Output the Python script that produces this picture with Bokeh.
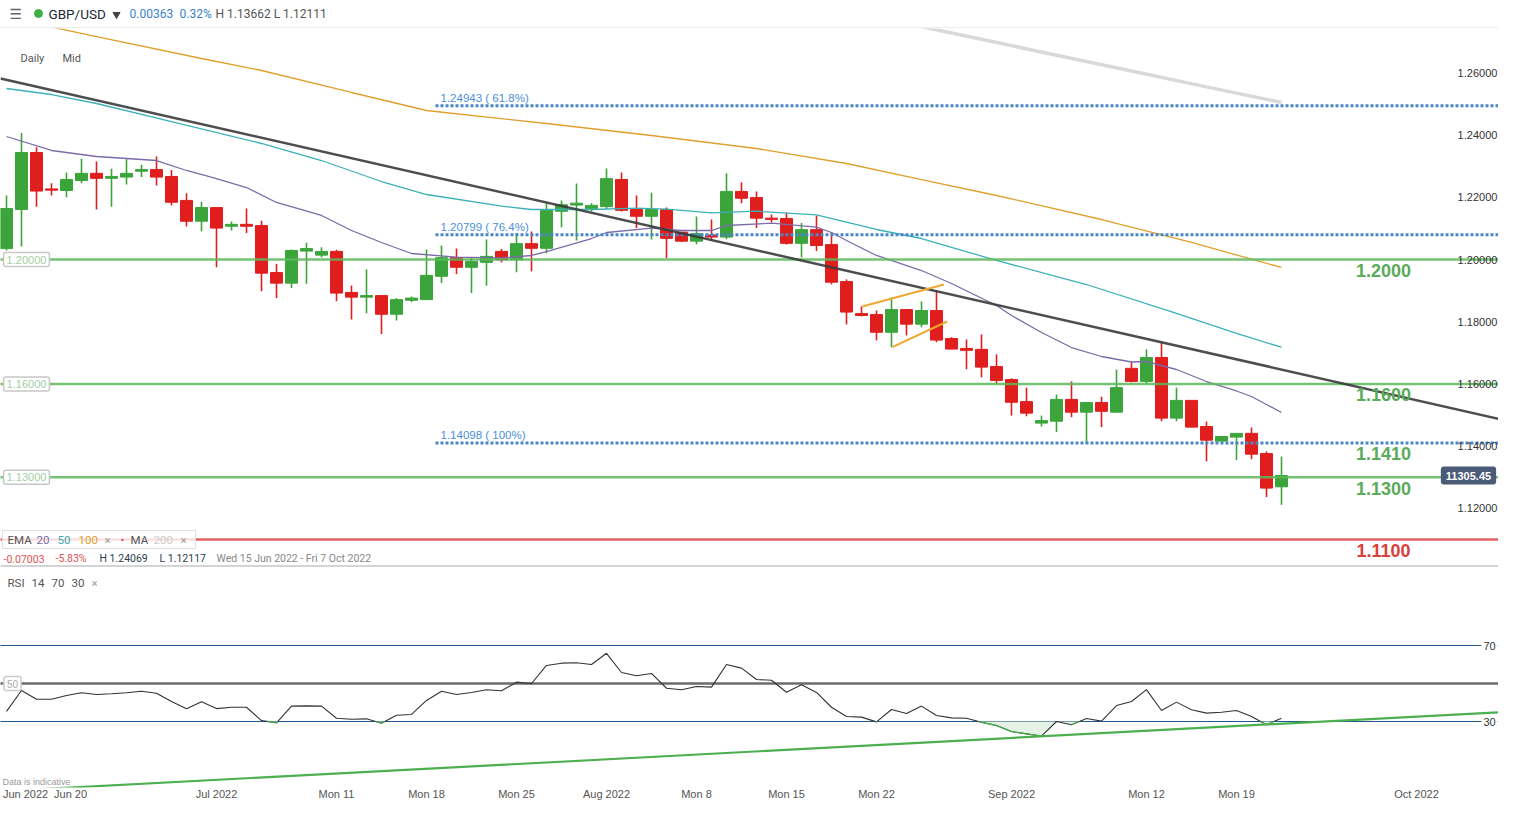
import numpy as np
from bokeh.plotting import figure
from bokeh.models import Range1d, Span, FixedTicker, ColumnDataSource
from bokeh.layouts import column
from bokeh.embed import file_html
from bokeh.resources import INLINE
from bokeh.core.properties import value

# ---------------- data ----------------
candle_index = list(range(86))   # daily bars from Wed 15 Jun 2022 (6 bars per week incl. Sunday)
opens = [1.2035, 1.2161, 1.2344, 1.2227, 1.2222, 1.2254, 1.2277, 1.2261, 1.2265, 1.2284,
         1.2289, 1.2267, 1.2190, 1.2123, 1.2167, 1.2107, 1.2113, 1.2109, 1.1958, 1.1924,
         1.2027, 1.2014, 1.2026, 1.1894, 1.1879, 1.1884, 1.1824, 1.1869, 1.1871, 1.1946,
         1.2006, 1.1975, 1.1991, 1.2026, 1.1999, 1.2051, 1.2036, 1.2155, 1.2175, 1.2163,
         1.2170, 1.2257, 1.2161, 1.2139, 1.2160, 1.2088, 1.2059, 1.2079, 1.2072, 1.2219,
         1.2199, 1.2133, 1.2132, 1.2052, 1.2096, 1.2048, 1.1929, 1.1826, 1.1823, 1.1766,
         1.1839, 1.1792, 1.1836, 1.1746, 1.1714, 1.1711, 1.1656, 1.1614, 1.1543, 1.1474,
         1.1480, 1.1550, 1.1509, 1.1540, 1.1509, 1.1650, 1.1608, 1.1685, 1.1490, 1.1547,
         1.1463, 1.1416, 1.1429, 1.1441, 1.1376, 1.12691]
highs = [1.2206, 1.24069, 1.2361, 1.2245, 1.2280, 1.2324, 1.2315, 1.2292, 1.2322, 1.2305,
         1.2331, 1.2288, 1.2213, 1.2186, 1.2167, 1.2122, 1.2164, 1.2125, 1.1986, 1.2032,
         1.2054, 1.2039, 1.2031, 1.1916, 1.1968, 1.1884, 1.1876, 1.1881, 1.2032, 1.2045,
         1.2035, 1.2005, 1.2064, 1.2034, 1.2085, 1.2090, 1.2184, 1.2190, 1.2244, 1.2181,
         1.2293, 1.2280, 1.2206, 1.2215, 1.2167, 1.2088, 1.2138, 1.2129, 1.2277, 1.2248,
         1.2219, 1.2145, 1.2150, 1.2117, 1.2141, 1.2088, 1.1936, 1.1849, 1.1836, 1.1878,
         1.1839, 1.1865, 1.1900, 1.1750, 1.1743, 1.1759, 1.1695, 1.1618, 1.1588, 1.1498,
         1.1566, 1.1608, 1.1540, 1.1559, 1.1646, 1.1669, 1.1711, 1.1736, 1.1588, 1.1547,
         1.1479, 1.1431, 1.1441, 1.1460, 1.1383, 1.13662]
lows = [1.2029, 1.2042, 1.2170, 1.2206, 1.2200, 1.2245, 1.2161, 1.2170, 1.2241, 1.2265,
        1.2238, 1.2174, 1.2106, 1.2091, 1.1975, 1.2093, 1.2085, 1.1898, 1.1876, 1.1908,
        1.1922, 1.2007, 1.1866, 1.1807, 1.1827, 1.1760, 1.1804, 1.1863, 1.1871, 1.1924,
        1.1953, 1.1892, 1.1916, 1.1991, 1.1959, 1.1962, 1.2020, 1.2104, 1.2061, 1.2154,
        1.2161, 1.2154, 1.2101, 1.2064, 1.2004, 1.2056, 1.2049, 1.2061, 1.2065, 1.2181,
        1.2101, 1.2120, 1.2048, 1.2007, 1.2027, 1.1920, 1.1791, 1.1817, 1.1740, 1.1718,
        1.1756, 1.1782, 1.1734, 1.1712, 1.1647, 1.1621, 1.1600, 1.1498, 1.1496, 1.1463,
        1.1445, 1.1493, 1.1407, 1.1461, 1.1509, 1.1605, 1.1600, 1.1480, 1.1480, 1.1461,
        1.1351, 1.1416, 1.1355, 1.1358, 1.1236, 1.12111]
closes = [1.2164, 1.2344, 1.2220, 1.2223, 1.2257, 1.2277, 1.2261, 1.2267, 1.2277, 1.2289,
          1.2265, 1.2184, 1.2123, 1.2167, 1.2101, 1.2113, 1.2107, 1.1956, 1.1924, 1.2029,
          1.2035, 1.2026, 1.1892, 1.1879, 1.1884, 1.1824, 1.1871, 1.1876, 1.1949, 1.2006,
          1.1975, 1.1994, 1.2010, 1.1999, 1.2051, 1.2036, 1.2158, 1.2176, 1.2181, 1.2174,
          1.2260, 1.2158, 1.2139, 1.2161, 1.2068, 1.2059, 1.2083, 1.2072, 1.2219, 1.2197,
          1.2133, 1.2129, 1.2052, 1.2096, 1.2045, 1.1927, 1.1831, 1.1820, 1.1766, 1.1839,
          1.1792, 1.1836, 1.1741, 1.1712, 1.1708, 1.1654, 1.1611, 1.1541, 1.1506, 1.1482,
          1.1550, 1.1509, 1.1540, 1.1512, 1.1588, 1.1608, 1.1685, 1.1490, 1.1547, 1.1461,
          1.1419, 1.1431, 1.1441, 1.1374, 1.1265, 1.13054]

ema20_x = [0, 3, 6, 10, 12, 14, 16, 18, 21, 23, 25, 27, 30, 33, 35, 36, 39, 40, 43, 45, 47,
           48, 51, 54, 55, 56, 58, 61, 63, 66, 67, 69, 71, 73, 75, 76, 78, 80, 82, 83, 84, 85]
ema20_y = [1.23955, 1.23505, 1.23312, 1.23183, 1.22862, 1.22604, 1.22315, 1.21833, 1.21415,
           1.20932, 1.20547, 1.20193, 1.20074, 1.20048, 1.20129, 1.20257, 1.20675, 1.20868,
           1.21006, 1.20932, 1.20932, 1.21093, 1.21167, 1.21039, 1.20868, 1.20611, 1.20129,
           1.19646, 1.19228, 1.18521, 1.18199, 1.17653, 1.17170, 1.16881, 1.16704, 1.16720,
           1.16463, 1.16077, 1.15772, 1.15595, 1.15338, 1.15080]
ema50_x = [0, 3, 6, 11, 17, 21, 25, 28, 33, 35, 39, 42, 44, 47, 50, 54, 58, 61, 66, 72, 78, 82, 85]
ema50_y = [1.25498, 1.25305, 1.25016, 1.24437, 1.23730, 1.23183, 1.22508, 1.22090, 1.21714,
           1.21608, 1.21608, 1.21649, 1.21617, 1.21502, 1.21553, 1.21437, 1.20965, 1.20675,
           1.19968, 1.19196, 1.18264, 1.17621, 1.17180]
ema100_x = [0, 6, 13, 17, 23, 28, 36, 43, 50, 56, 61, 66, 73, 79, 85]
ema100_y = [1.27781, 1.27170, 1.26463, 1.26077, 1.25370, 1.24791, 1.24373, 1.23987, 1.23569,
            1.23087, 1.22572, 1.22058, 1.21286, 1.20547, 1.19743]
ma200_x = [58, 65, 70, 75, 80, 85]
ma200_y = [1.2779, 1.2708, 1.2657, 1.2606, 1.2555, 1.2505]

rsi_values = [35.3, 46.3, 41.7, 41.7, 43.7, 45.1, 44.2, 44.6, 45.1, 45.9,
              44.9, 40.5, 36.7, 40.4, 36.8, 37.5, 37.5, 30.5, 29.3, 38.1,
              38.2, 38.1, 31.7, 31.2, 31.4, 29.1, 33.3, 33.7, 41.1, 45.9,
              44.2, 45.3, 46.7, 46.2, 50.7, 50.0, 59.5, 60.7, 60.9, 60.0,
              65.9, 55.8, 54.1, 55.3, 47.5, 46.7, 48.4, 48.1, 60.0, 58.1,
              52.1, 51.7, 45.4, 49.3, 45.3, 37.5, 32.6, 32.3, 29.8, 36.3,
              34.2, 38.1, 33.2, 31.9, 31.7, 29.6, 27.9, 24.7, 23.5, 22.3,
              30.0, 28.3, 31.6, 30.2, 38.4, 40.5, 46.8, 35.8, 40.2, 36.2,
              34.4, 34.9, 35.8, 32.6, 28.3, 31.7]

trend_x = [-0.4, 100.53]
trend_y = [1.2582, 1.1476]
wedge_top_x = [57.05, 62.49]
wedge_top_y = [1.18489, 1.19196]
wedge_bot_x = [59.05, 62.71]
wedge_bot_y = [1.17180, 1.18006]
rsi_trend_x = [-0.4, 100.53]
rsi_trend_y = [-6.7, 35.3]

support_levels = [1.2000, 1.1600, 1.1300]
support_left_labels = ["1.20000", "1.16000", "1.13000"]
big_label_levels = [1.2000, 1.1600, 1.1410, 1.1300]
big_label_texts = ["1.2000", "1.1600", "1.1410", "1.1300"]
red_level = 1.1100
red_label = "1.1100"
fib_levels = [1.24943, 1.20799, 1.14098]
fib_labels = ["1.24943 ( 61.8%)", "1.20799 ( 76.4%)", "1.14098 ( 100%)"]
fib_start = 28.6
price_ticks = [1.26, 1.24, 1.22, 1.20, 1.18, 1.16, 1.14, 1.12]
price_tick_labels = ["%.5f" % t for t in price_ticks]
last_price_label = "11305.45"
rsi_levels = [70, 30]
x_tick_pos = [1.27, 4.27, 14, 22, 28, 34, 40, 46, 52, 58, 67, 76, 82, 94]
x_tick_labels = ["Jun 2022", "Jun 20", "Jul 2022", "Mon 11", "Mon 18", "Mon 25", "Aug 2022",
                 "Mon 8", "Mon 15", "Mon 22", "Sep 2022", "Mon 12", "Mon 19", "Oct 2022"]

# ---------------- pixel helpers (for text placement only) ----------------
def X(px):
    return (px - 6) / 15.0

def PY(py):
    return 1.2 + (259 - py) / 3110.0

def RY(py):
    return 70 - (py - 645) / 1.9

GREEN = "#3ba53b"
RED = "#e01e1e"
LVL_GREEN = "#5cb85c"
UI = value("Roboto")
NUM = value("Liberation Sans")
W = 1498

xr = Range1d(X(0), X(W))
FAR_L, FAR_R = X(-50), X(1600)

# ---------------- header ----------------
h = figure(frame_width=W, frame_height=28, x_range=Range1d(0, W), y_range=Range1d(28, 0),
           x_axis_type=None, y_axis_type=None, toolbar_location=None, output_backend="svg",
           min_border=0, outline_line_color=None)
h.add_layout(Span(location=27.5, dimension="width", line_color="#d3dede", line_width=1))
h.text(x=[9], y=[13], text=["\u2630"], text_font=value("DejaVu Sans"), text_font_size="14px",
       text_color="#666666", text_baseline="middle")
h.scatter(x=[38], y=[13], size=8, color="#3cb043", marker="circle")
h.text(x=[48], y=[13], text=["GBP/USD"], text_font=UI, text_font_size="13.5px",
       text_color="#1e2838", text_baseline="middle")
h.scatter(x=[116], y=[14], size=7, color="#444444", marker="inverted_triangle")
h.text(x=[129, 179], y=[13, 13], text=["0.00363", "0.32%"], text_font=UI, text_font_size="12px",
       text_color="#3b82c4", text_baseline="middle")
h.text(x=[215], y=[13], text=["H 1.13662 L 1.12111"], text_font=UI, text_font_size="12px",
       text_color="#555555", text_baseline="middle")

# ---------------- price panel ----------------
p = figure(frame_width=W, frame_height=539, x_range=xr, y_range=Range1d(PY(567), PY(28)),
           x_axis_type=None, y_axis_type=None, toolbar_location=None, output_backend="svg",
           min_border=0, outline_line_color=None)

up = [c >= o for o, c in zip(opens, closes)]
src = ColumnDataSource(dict(
    x=candle_index, h=highs, l=lows,
    top=[max(o, c) for o, c in zip(opens, closes)],
    bottom=[min(o, c) for o, c in zip(opens, closes)],
    color=[GREEN if u else RED for u in up]))
p.segment(x0="x", y0="h", x1="x", y1="l", line_color="color", line_width=1.6, source=src)
p.vbar(x="x", width=0.8, top="top", bottom="bottom", fill_color="color", line_color="color",
       line_width=1, source=src)

p.line(ma200_x, ma200_y, line_color="#d9d9d9", line_width=3.5)
p.line(ema100_x, ema100_y, line_color="#e0a02c", line_width=1.3)
p.line(ema50_x, ema50_y, line_color="#3cb0b8", line_width=1.3)
p.line(ema20_x, ema20_y, line_color="#7d6aa8", line_width=1.3)

n_s = len(support_levels)
p.segment(x0=[FAR_L] * n_s, y0=support_levels, x1=[FAR_R] * n_s, y1=support_levels,
          line_color=LVL_GREEN, line_width=2.5, line_alpha=0.85)
p.segment(x0=[FAR_L], y0=[red_level], x1=[FAR_R], y1=[red_level],
          line_color="#e05050", line_width=2.5, line_alpha=0.9)
p.segment(x0=[fib_start] * 3, y0=fib_levels, x1=[FAR_R] * 3, y1=fib_levels,
          line_color="#4a86c5", line_width=3, line_dash="3 2")
p.line(trend_x, trend_y, line_color="#3a3a3a", line_width=2.5, line_alpha=0.9)
p.line(wedge_top_x, wedge_top_y, line_color="#f0a830", line_width=2)
p.line(wedge_bot_x, wedge_bot_y, line_color="#f0a830", line_width=2)

# fib labels
p.text(x=[X(440)] * 3, y=fib_levels, text=fib_labels, text_font=NUM, text_font_size="11.5px",
       text_color="#4a90d9", text_baseline="bottom", y_offset=-2)
# big level labels
p.text(x=[X(1383)] * 4, y=big_label_levels, text=big_label_texts, text_font=NUM,
       text_font_size="18px", text_font_style="bold", text_color="#5aab5a", text_align="center",
       text_baseline="middle", y_offset=11)
p.text(x=[X(1383)], y=[red_level], text=[red_label], text_font=NUM, text_font_size="18px",
       text_font_style="bold", text_color="#d9403a", text_align="center",
       text_baseline="middle", y_offset=11)
# left boxed labels
p.text(x=[X(26)] * 3, y=support_levels, text=support_left_labels, text_font=NUM,
       text_font_size="11px", text_color="#9fd09f", text_align="center", text_baseline="middle",
       background_fill_color="white", border_line_color="#c8c8c8", border_line_width=1.5,
       padding=3, border_radius=2)
# right price axis labels
p.text(x=[X(1477)] * len(price_ticks), y=price_ticks, text=price_tick_labels, text_font=NUM,
       text_font_size="11px", text_color="#333333", text_align="center", text_baseline="middle")
p.text(x=[X(1468)], y=[closes[-1]], text=[last_price_label], text_font=NUM,
       text_font_size="11px", text_font_style="bold", text_color="white", text_align="center",
       text_baseline="middle", background_fill_color="#4a5b78", padding=5, border_radius=3)
# Daily / Mid
p.text(x=[X(20), X(62)], y=[PY(58)] * 2, text=["Daily", "Mid"], text_font=UI,
       text_font_size="11px", text_color="#555555", text_baseline="middle")
# indicator legend (box drawn as glyph so texts stay on top)
p.quad(left=[X(2)], right=[X(195)], bottom=[PY(548)], top=[PY(530)], fill_color="white",
       fill_alpha=0.8, line_color="#e0e0e0", line_width=1)
leg = [("EMA", 7, "#555555"), ("20", 36, "#7d6aa8"), ("50", 57, "#3aa9b2"),
       ("100", 78, "#e0a030"), ("\u00d7", 104, "#999999"), ("\u2022", 120, "#dd5555"),
       ("MA", 130, "#555555"), ("200", 153, "#cccccc"), ("\u00d7", 180, "#999999")]
p.text(x=[X(a[1]) for a in leg], y=[PY(539)] * len(leg), text=[a[0] for a in leg],
       text_color=[a[2] for a in leg], text_font=UI, text_font_size="11.5px",
       text_baseline="middle")
row2 = [("-0.07003", 3, "#d9534f"), ("-5.83%", 55, "#d9534f"), ("H 1.24069", 99, "#2c3e50"),
        ("L 1.12117", 159, "#2c3e50"), ("Wed 15 Jun 2022 - Fri 7 Oct 2022", 216, "#888888")]
p.text(x=[X(a[1]) for a in row2], y=[PY(558)] * len(row2), text=[a[0] for a in row2],
       text_color=[a[2] for a in row2], text_font=UI, text_font_size="10.5px",
       text_baseline="middle")
p.add_layout(Span(location=PY(566), dimension="width", line_color="#d4d4d4", line_width=3))

# ---------------- RSI panel ----------------
r = figure(frame_width=W, frame_height=220, x_range=xr, y_range=Range1d(RY(787), RY(567)),
           y_axis_type=None, toolbar_location=None, output_backend="svg", min_border=0,
           min_border_bottom=13, outline_line_color=None)
r.xgrid.visible = False
r.xaxis.ticker = FixedTicker(ticks=x_tick_pos)
r.xaxis.major_label_overrides = {t: lab for t, lab in zip(x_tick_pos, x_tick_labels)}
r.xaxis.axis_line_color = None
r.xaxis.major_tick_line_color = None
r.xaxis.minor_tick_line_color = None
r.xaxis.major_tick_out = 0
r.xaxis.major_tick_in = 0
r.xaxis.major_label_standoff = 0
r.xaxis.major_label_text_font = "Liberation Sans"
r.xaxis.major_label_text_font_size = "11px"
r.xaxis.major_label_text_color = "#555555"

n_r = len(rsi_levels)
r.segment(x0=[FAR_L] * n_r, y0=rsi_levels, x1=[FAR_R] * n_r, y1=rsi_levels,
          line_color="#23578f", line_width=1.2)
r.segment(x0=[FAR_L], y0=[50], x1=[FAR_R], y1=[50], line_color="#6b6b6b", line_width=2.5)

rx = np.array(candle_index, dtype=float)
ry = np.array(rsi_values, dtype=float)
aug_x, aug_y = [rx[0]], [ry[0]]
gxs, gys = [], []
for k in range(len(rx) - 1):
    x0, x1, y0, y1 = rx[k], rx[k + 1], ry[k], ry[k + 1]
    xc = None
    if (y0 - 30) * (y1 - 30) < 0:
        xc = x0 + (30 - y0) / (y1 - y0) * (x1 - x0)
        aug_x.append(xc)
        aug_y.append(30.0)
    aug_x.append(x1)
    aug_y.append(y1)
    if y0 < 30 and y1 < 30:
        gxs.append([x0, x1]); gys.append([y0, y1])
    elif y0 < 30 and xc is not None:
        gxs.append([x0, xc]); gys.append([y0, 30])
    elif y1 < 30 and xc is not None:
        gxs.append([xc, x1]); gys.append([30, y1])
aug_y = np.array(aug_y)
r.varea(x=aug_x, y1=np.minimum(aug_y, 30), y2=[30] * len(aug_x), fill_color="#e2f2e2",
        fill_alpha=0.9)
r.line(candle_index, rsi_values, line_color="#333333", line_width=1.1)
r.multi_line(gxs, gys, line_color="#4caf50", line_width=1.3)
r.line(rsi_trend_x, rsi_trend_y, line_color="#4caf50", line_width=2.2)

r.text(x=[X(1489)] * 2, y=rsi_levels, text=[str(v) for v in rsi_levels], text_font=NUM,
       text_font_size="11px", text_color="#333333", text_align="center", text_baseline="middle",
       background_fill_color="white", padding=2)
r.text(x=[X(12)], y=[50], text=["50"], text_font=NUM, text_font_size="10px",
       text_color="#aaaaaa", text_align="center", text_baseline="middle",
       background_fill_color="white", border_line_color="#cccccc", border_line_width=1.5,
       padding=3, border_radius=2)
rl = [("RSI", 7, "#555555"), ("14", 31, "#555555"), ("70", 51, "#555555"),
      ("30", 71, "#555555"), ("\u00d7", 91, "#999999")]
r.text(x=[X(a[1]) for a in rl], y=[RY(582)] * len(rl), text=[a[0] for a in rl],
       text_color=[a[2] for a in rl], text_font=UI, text_font_size="11.5px",
       text_baseline="middle")
r.text(x=[X(2)], y=[RY(781)], text=["Data is indicative"], text_font=NUM,
       text_font_size="9px", text_color="#9a9a9a", text_baseline="middle")

layout = column(h, p, r, spacing=0)
open("out.html", "w").write(file_html(layout, INLINE))
